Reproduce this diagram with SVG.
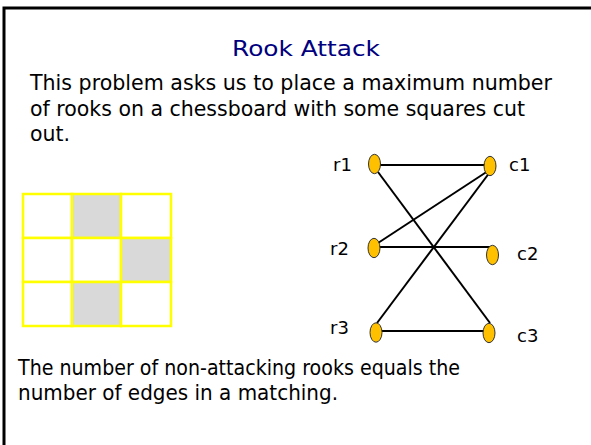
<svg xmlns="http://www.w3.org/2000/svg" width="591" height="445" viewBox="0 0 591 445">
<style>
.t{font-family:"DejaVu Sans","Liberation Sans",sans-serif;fill:#000;}
.body{font-size:22px;}
.title{font-size:22px;fill:#000080;}
.lbl{font-size:18px;}
.cell{stroke:#FFFF00;stroke-width:2.5;fill:#fff;}
.cut{fill:#D9D9D9;}
.node{fill:#FFC000;stroke:#333;stroke-width:1;}
.edge{stroke:#000;stroke-width:2;fill:none;}
</style>
<rect width="591" height="445" fill="#fff"/>
<path d="M4 445 V8 H591" fill="none" stroke="#000" stroke-width="3"/>
<text class="t title" x="306" y="56" text-anchor="middle" textLength="148" lengthAdjust="spacingAndGlyphs">Rook Attack</text>
<text class="t body" x="30" y="90" textLength="522" lengthAdjust="spacingAndGlyphs">This problem asks us to place a maximum number</text>
<text class="t body" x="30" y="116" textLength="495" lengthAdjust="spacingAndGlyphs">of rooks on a chessboard with some squares cut</text>
<text class="t body" x="30" y="141" textLength="40" lengthAdjust="spacingAndGlyphs">out.</text>
<g id="board">
<rect class="cell" x="23" y="194" width="49" height="44"/>
<rect class="cell cut" x="72" y="194" width="49" height="44"/>
<rect class="cell" x="121" y="194" width="50" height="44"/>
<rect class="cell" x="23" y="238" width="49" height="44"/>
<rect class="cell" x="72" y="238" width="49" height="44"/>
<rect class="cell cut" x="121" y="238" width="50" height="44"/>
<rect class="cell" x="23" y="282" width="49" height="44"/>
<rect class="cell cut" x="72" y="282" width="49" height="44"/>
<rect class="cell" x="121" y="282" width="50" height="44"/>
</g>
<g id="edges">
<line class="edge" x1="380" y1="165" x2="485" y2="165"/>
<line class="edge" x1="378" y1="172" x2="490" y2="323"/>
<line class="edge" x1="488" y1="171" x2="378" y2="243"/>
<line class="edge" x1="379" y1="247" x2="490" y2="247"/>
<line class="edge" x1="490" y1="172" x2="377" y2="323"/>
<line class="edge" x1="382" y1="331" x2="485" y2="331"/>
</g>
<g id="r1"><ellipse class="node" cx="374.5" cy="164" rx="6" ry="9.7"/><text class="t lbl" x="333" y="171">r1</text></g>
<g id="c1"><ellipse class="node" cx="490" cy="166" rx="6" ry="9.7"/><text class="t lbl" x="509" y="171">c1</text></g>
<g id="r2"><ellipse class="node" cx="374" cy="248" rx="6" ry="9.7"/><text class="t lbl" x="330" y="255">r2</text></g>
<g id="c2"><ellipse class="node" cx="492.5" cy="255" rx="6" ry="9.7"/><text class="t lbl" x="517" y="260">c2</text></g>
<g id="r3"><ellipse class="node" cx="376" cy="332.5" rx="6" ry="9.7"/><text class="t lbl" x="330" y="334">r3</text></g>
<g id="c3"><ellipse class="node" cx="489" cy="333" rx="6" ry="9.7"/><text class="t lbl" x="517" y="342">c3</text></g>
<text class="t body" x="18" y="375" textLength="442" lengthAdjust="spacingAndGlyphs">The number of non-attacking rooks equals the</text>
<text class="t body" x="18" y="400" textLength="320" lengthAdjust="spacingAndGlyphs">number of edges in a matching.</text>
</svg>
